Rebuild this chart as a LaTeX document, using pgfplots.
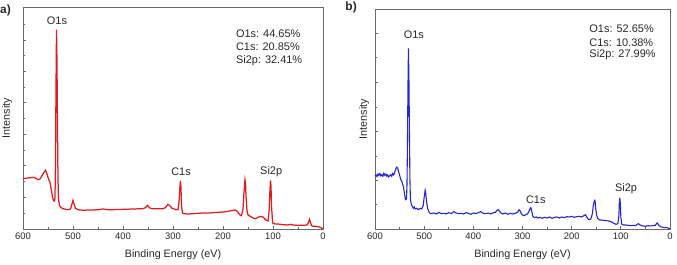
\documentclass[border=0pt]{standalone}
\usepackage{pgfplots}
\pgfplotsset{compat=1.18}
\usepackage{fontspec}
\setmainfont{Liberation Sans}
\definecolor{xpsred}{RGB}{222,28,30}
\definecolor{xpsblue}{RGB}{38,38,205}
\definecolor{axgray}{RGB}{105,105,105}
\definecolor{txt}{RGB}{40,40,40}
\tikzset{lbl/.style={font=\fontsize{11}{12}\selectfont, text=txt}}
\pgfplotsset{
  xps/.style={
    scale only axis,
    anchor=south west,
    x dir=reverse,
    xmin=0, xmax=600,
    ymin=0,
    xtick={0,100,...,600},
    minor xtick={50,150,...,550},
    yticklabels={},
    tick align=inside,
    tick pos=left,
    major tick length=3bp,
    minor tick length=1.8bp,
    axis line style={axgray, line width=0.9bp},
    every tick/.style={axgray, line width=0.7bp},
    every minor tick/.style={axgray, line width=0.6bp},
    tick label style={font=\fontsize{9.5}{11}\selectfont, text=txt},
    /pgf/number format/assume math mode=true,
    xlabel={Binding Energy (eV)},
    ylabel={Intensity},
    label style={font=\fontsize{10.8}{12}\selectfont, text=txt},
    xlabel style={at={(axis description cs:0.5,0)}, anchor=center, yshift=-26bp},
    clip=false,
  },
}
\begin{document}
\begin{tikzpicture}[x=1bp,y=1bp]
\useasboundingbox (0,0) rectangle (677,264);
% ---------------- panel a ----------------
\begin{axis}[xps, at={(23bp,35bp)}, width=300bp, height=222bp, ymax=666,
  ytick={95,190,285,379,473,567},
  minor ytick={48,142,237,332,426,520,614},
  ylabel style={at={(axis description cs:-0.053,0.5)}, anchor=center}]
\addplot[xpsred, line width=1.25bp] coordinates {
(600,151) (595,152) (590,153) (585,154) (580,155) (575,153) (570,148) (566,150) (562,160) (558,170) (555,176) (552,165) (549,150) (546,140) (543,115) (541,95) (539,86) (537,84) (536,95) (535,200) (534,420) (533,598) (532,500) (531,300) (530,150) (529,90) (527,70) (524,64) (520,61) (515,59) (510,58) (505,60) (502,75) (500,86) (498,75) (495,62) (490,58) (480,56) (470,57) (460,57) (450,58) (440,60) (430,58) (420,58) (400,59) (380,60) (360,61) (355,64) (351,71) (348,66) (345,62) (340,61) (330,61) (320,61) (315,64) (310,74) (306,70) (302,62) (298,60) (294,58) (290,58) (288,80) (286,130) (285,144) (284,125) (283,70) (281,48) (278,46) (270,45) (260,46) (250,47) (240,48) (230,48) (220,49) (210,50) (200,51) (190,53) (183,55) (178,57) (174,56) (170,50) (166,42) (163,40) (160,60) (158,110) (156,148) (155,140) (154,100) (152,55) (150,42) (145,38) (140,33) (135,31) (130,35) (125,38) (120,36) (115,28) (110,24) (108,50) (106,120) (105,146) (104,130) (103,70) (101,25) (100,17) (95,15) (90,15) (80,13) (70,12) (65,14) (60,12) (50,11) (40,11) (32,12) (29,20) (27,29) (25,20) (23,10) (20,8) (15,8) (10,7) (5,5) (2,2) (0,1)
};
\node[lbl] at (axis cs:532,626) {O1s};
\node[lbl] at (axis cs:284,173) {C1s};
\node[lbl] at (axis cs:103.6,173) {Si2p};
\node[lbl, anchor=west] at (axis cs:181,586) {O1s: 44.65\%};
\node[lbl, anchor=west] at (axis cs:181,546) {C1s: 20.85\%};
\node[lbl, anchor=west] at (axis cs:181,504) {Si2p: 32.41\%};
\node[lbl, font=\fontsize{12}{13}\selectfont\bfseries, anchor=west, inner sep=0pt] at (axis description cs:-0.0767,0.985) {a)};
\end{axis}
% ---------------- panel b ----------------
\begin{axis}[xps, at={(375bp,35bp)}, width=295bp, height=220bp, ymax=659,
  ytick={146,292,439,586},
  minor ytick={73,219,366,513},
  ylabel style={at={(axis description cs:-0.037,0.5)}, anchor=center}]
\addplot[xpsblue, line width=1.1bp] coordinates {
(600,158) (598,162) (596,157) (594,165) (592,160) (590,166) (588,159) (586,163) (584,158) (582,167) (580,161) (578,165) (576,158) (574,162) (572,156) (570,160) (568,163) (566,158) (564,166) (562,162) (560,170) (558,178) (556,185) (554,183) (552,172) (550,162) (548,150) (545,140) (542,125) (540,105) (538,88) (536,90) (535,130) (534,250) (533,420) (532,541) (531,450) (530,300) (529,150) (528,90) (526,72) (524,68) (522,62) (520,66) (518,60) (515,62) (512,58) (508,62) (505,60) (502,70) (500,95) (498,116) (497,110) (495,80) (493,62) (490,50) (487,46) (480,48) (475,45) (470,50) (465,46) (460,47) (455,45) (450,49) (445,46) (440,52) (435,48) (430,46) (425,47) (420,45) (415,49) (410,47) (405,44) (400,48) (395,46) (390,49) (385,52) (380,47) (375,46) (370,48) (365,45) (360,48) (355,50) (352,56) (349,58) (346,52) (343,47) (340,45) (335,48) (330,44) (325,47) (320,45) (315,47) (310,50) (307,58) (305,55) (302,45) (298,40) (294,42) (290,45) (287,52) (285,60) (283,64) (281,52) (279,38) (276,34) (272,36) (268,33) (265,35) (260,32) (255,35) (250,33) (245,36) (240,32) (235,35) (230,36) (225,33) (220,36) (215,34) (210,37) (205,36) (200,38) (195,35) (190,37) (185,38) (180,36) (175,40) (172,43) (170,38) (167,30) (164,28) (161,30) (158,45) (156,70) (154,84) (153,86) (152,80) (151,60) (149,40) (147,32) (143,27) (140,27) (135,26) (130,25) (125,24) (120,22) (115,18) (110,14) (106,16) (104,40) (103,80) (102,94) (101,75) (100,35) (98,14) (95,12) (90,12) (85,11) (80,10) (75,11) (70,10) (67,14) (64,16) (61,12) (55,9) (50,8) (45,10) (40,9) (35,10) (30,11) (28,15) (26,18) (24,14) (22,10) (18,6) (14,5) (10,4) (6,4) (3,2) (0,1)
};
\node[lbl] at (axis cs:521,583) {O1s};
\node[lbl] at (axis cs:273,89) {C1s};
\node[lbl] at (axis cs:89.5,121) {Si2p};
\node[lbl, anchor=west] at (axis cs:171,601) {O1s: 52.65\%};
\node[lbl, anchor=west] at (axis cs:171,558) {C1s: 10.38\%};
\node[lbl, anchor=west] at (axis cs:171,521) {Si2p: 27.99\%};
\node[lbl, font=\fontsize{12}{13}\selectfont\bfseries] at (axis description cs:-0.081,1.005) {b)};
\end{axis}
\end{tikzpicture}
\end{document}
